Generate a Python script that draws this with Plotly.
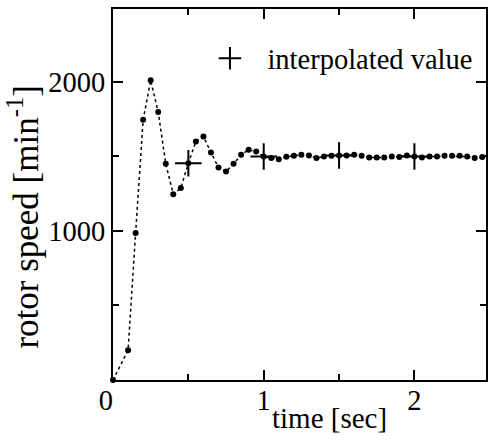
import plotly.graph_objects as go

# sampled rotor speed response
time_s = [0.0, 0.10, 0.15, 0.20, 0.25, 0.30, 0.35, 0.40, 0.45, 0.50,
          0.55, 0.60, 0.65, 0.70, 0.75, 0.80, 0.85, 0.90, 0.95, 1.00,
          1.05, 1.10, 1.15, 1.20, 1.25, 1.30, 1.35, 1.40, 1.45, 1.50,
          1.55, 1.60, 1.65, 1.70, 1.75, 1.80, 1.85, 1.90, 1.95, 2.00,
          2.05, 2.10, 2.15, 2.20, 2.25, 2.30, 2.35, 2.40, 2.45]
speed_rpm = [0, 200, 985, 1745, 2010, 1797, 1450, 1246, 1287, 1454,
             1600, 1633, 1526, 1425, 1398, 1450, 1510, 1544, 1532, 1499,
             1488, 1481, 1497, 1504, 1510, 1506, 1488, 1499, 1504, 1506,
             1506, 1510, 1504, 1492, 1492, 1492, 1499, 1495, 1506, 1499,
             1492, 1499, 1499, 1504, 1504, 1504, 1499, 1488, 1495]

# interpolated values
interp_time = [0.5, 1.0, 1.5, 2.0]
interp_speed = [1454, 1499, 1506, 1499]

x_tickvals = [0, 1, 2]
x_ticktext = ["0\u2002", "1", "2"]
y_tickvals = [1000, 2000]
y_ticktext = ["1000", "2000"]

FONT = "Liberation Serif, Times New Roman, serif"
TICK_SIZE = 28.5

fig = go.Figure()
fig.add_trace(go.Scatter(
    x=time_s, y=speed_rpm, mode="lines+markers",
    line=dict(color="black", width=1.5, dash="dot"),
    marker=dict(color="black", size=6),
    showlegend=False, cliponaxis=False,
))
fig.add_trace(go.Scatter(
    x=interp_time, y=interp_speed, mode="markers",
    marker=dict(symbol="cross-thin", size=19, line=dict(color="black", width=2)),
    name="interpolated value", showlegend=True, cliponaxis=False,
))

axis_common = dict(
    showline=True, linecolor="black", linewidth=2,
    ticks="inside", ticklen=10, tickwidth=1.5, tickcolor="black",
    showgrid=False, zeroline=False,
    tickfont=dict(family=FONT, size=TICK_SIZE, color="black"),
)

fig.update_layout(
    width=488, height=441,
    margin=dict(l=113, r=0, t=9, b=61),
    paper_bgcolor="white", plot_bgcolor="white",
    font=dict(family=FONT, size=TICK_SIZE, color="black"),
    xaxis=dict(
        range=[0, 2.475], tickvals=x_tickvals, ticktext=x_ticktext,
        mirror="ticks", ticklabelstandoff=-6,
        minor=dict(tickvals=[0.5, 1.5], ticks="inside", ticklen=6,
                   tickwidth=1.5, tickcolor="black"),
        **axis_common,
    ),
    yaxis=dict(
        range=[0, 2488], tickvals=y_tickvals, ticktext=y_ticktext,
        mirror="ticks",
        minor=dict(tickvals=[500, 1500], ticks="inside", ticklen=6,
                   tickwidth=1.5, tickcolor="black"),
        **axis_common,
    ),
    legend=dict(
        x=0.213, y=0.866, xanchor="left", yanchor="middle",
        bgcolor="rgba(0,0,0,0)", itemwidth=65,
        font=dict(family=FONT, size=TICK_SIZE, color="black"),
    ),
    annotations=[
        dict(text="time [sec]", xref="paper", yref="paper",
             x=0.581, y=-0.102, xanchor="center", yanchor="middle",
             showarrow=False, font=dict(family=FONT, size=29, color="black")),
        dict(text="rotor speed [min<sup>-1</sup>]", xref="paper", yref="paper",
             x=-0.24, y=0.439, xanchor="center", yanchor="middle",
             textangle=-90, showarrow=False,
             font=dict(family=FONT, size=35, color="black")),
    ],
)

fig.write_html("out.html")
